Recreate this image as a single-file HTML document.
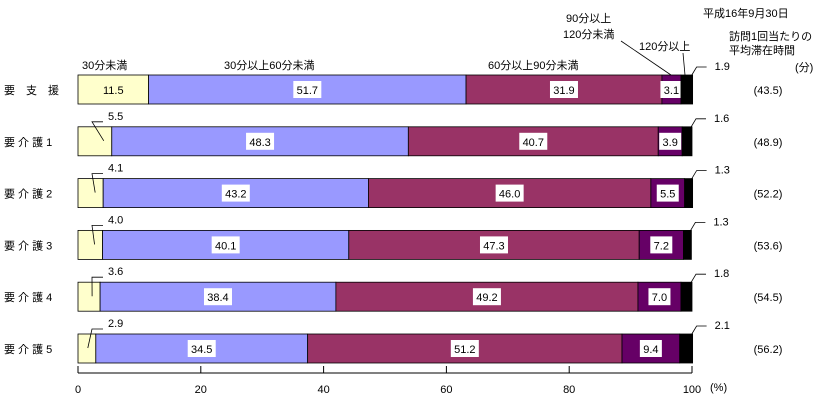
<!DOCTYPE html>
<html><head><meta charset="utf-8"><style>
body{margin:0;background:#fff;width:830px;height:401px;overflow:hidden}
svg text{font-family:"Liberation Sans","Noto Sans CJK JP",sans-serif;font-size:11px;fill:#000}
</style></head><body>
<svg id="c" width="830" height="401" xmlns="http://www.w3.org/2000/svg">
<text x="703" y="17">平成16年9月30日</text>
<text x="729" y="40">訪問1回当たりの</text>
<text x="729" y="54">平均滞在時間</text>
<text x="795" y="71">(分)</text>
<text x="82" y="69">30分未満</text>
<text x="224" y="69">30分以上60分未満</text>
<text x="488" y="69">60分以上90分未満</text>
<text x="566" y="22">90分以上</text>
<text x="563" y="38">120分未満</text>
<line x1="621" y1="41" x2="671" y2="75" stroke="#000" stroke-width="0.8"/>
<text x="639" y="50">120分以上</text>
<line x1="683" y1="53" x2="685" y2="75" stroke="#000" stroke-width="0.8"/>
<text x="710" y="391">(%)</text>
</svg>
<script>
const categories=["要　支　援","要 介 護 1","要 介 護 2","要 介 護 3","要 介 護 4","要 介 護 5"];
const s1=[11.5,5.5,4.1,4.0,3.6,2.9];
const s2=[51.7,48.3,43.2,40.1,38.4,34.5];
const s3=[31.9,40.7,46.0,47.3,49.2,51.2];
const s4=[3.1,3.9,5.5,7.2,7.0,9.4];
const s5=[1.9,1.6,1.3,1.3,1.8,2.1];
const avgTime=["(43.5)","(48.9)","(52.2)","(53.6)","(54.5)","(56.2)"];
const ticks=[0,20,40,60,80,100];
const colors=["#ffffcc","#9999ff","#993366","#660066","#000000"];
const svg=document.getElementById('c');const NS="http://www.w3.org/2000/svg";
const X=v=>78+v*6.14;
const rowTop=i=>75+i*51.8;const H=29;
function el(t,a,txt){const e=document.createElementNS(NS,t);for(const k in a)e.setAttribute(k,a[k]);if(txt!=null)e.textContent=txt;svg.appendChild(e);return e;}
const series=[s1,s2,s3,s4,s5];
categories.forEach((c,i)=>{
  const y=rowTop(i);
  const t=el('text',{x:4,y:y+19,'font-size':'12'},c);
  
  
  let acc=0;
  series.forEach((s,k)=>{
    const v=s[i];const x0=X(acc);const x1=X(acc+v);
    const r=el('rect',{x:x0,y:y,width:x1-x0,height:H,fill:colors[k],stroke:'#000','stroke-width':'0.8'});
    
    
    const txt=v.toFixed(1);
    if(k<4 && v>=8 || (k===3) || (k===0&&i===0)){
      const cx=(x0+x1)/2;const w=txt.length*6+4;
      if(k>0){const b=el('rect',{x:cx-w/2,y:y+6,width:w,height:17,fill:'#fff'});
        
        }
      const l=el('text',{x:cx,y:y+19,'text-anchor':'middle'},txt);
      
      
    } else if(k===0){
      const ln=el('polyline',{points:`${x1-8},${y+14} ${x0+14},${y-5} ${x0+25},${y-5}`,fill:'none',stroke:'#000','stroke-width':'0.8'});
      
      
      const l=el('text',{x:x0+30,y:y-7},txt);
      
      
    } else if(k===4){
      const ln=el('polyline',{points:`${x1-2},${y+2} ${x1+4},${y-8} ${x1+14},${y-8}`,fill:'none',stroke:'#000','stroke-width':'0.8'});
      
      
      const l=el('text',{x:x1+22,y:y-5},txt);
      
      
    }
    acc+=v;
  });
  const a=el('text',{x:768,y:y+19,'text-anchor':'middle'},avgTime[i]);
  
  
});
const ax=el('line',{x1:X(0),y1:373,x2:X(100),y2:373,stroke:'#000','stroke-width':'1'});


ticks.forEach(v=>{
  const tk=el('line',{x1:X(v),y1:366,x2:X(v),y2:373,stroke:'#000','stroke-width':'1'});
  
  
  const l=el('text',{x:X(v),y:393,'text-anchor':'middle'},String(v));
  
  
});
</script>
</body></html>
